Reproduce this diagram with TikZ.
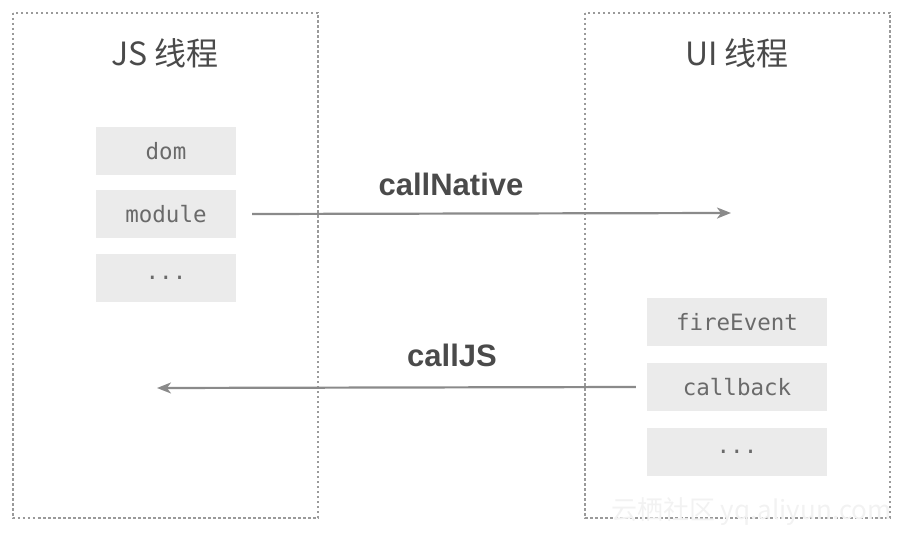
\documentclass[tikz,border=0pt]{standalone}
\usepackage{fontspec}
\setmainfont{Liberation Sans}
\newfontfamily\cjkfont{Noto Sans CJK SC}
\newfontfamily\monofont{DejaVu Sans Mono}
\usetikzlibrary{arrows.meta}
\definecolor{framegray}{HTML}{9A9A9A}
\definecolor{boxgray}{HTML}{EBEBEB}
\definecolor{textgray}{HTML}{6A6A6A}
\definecolor{arrowgray}{HTML}{8A8A8A}
\definecolor{titlegray}{HTML}{4A4A4A}
\begin{document}
\begin{tikzpicture}[x=1pt,y=-1pt,
  frame/.style={draw=framegray,line width=1.2pt,dash pattern=on 2.5pt off 2.5pt},
  itembox/.style={fill=boxgray,draw=none,minimum width=140pt,minimum height=48pt,inner sep=0pt,
    font=\monofont\fontsize{22.5}{26}\selectfont,text=textgray},
  ritembox/.style={itembox,minimum width=180pt},
  titletext/.style={font=\cjkfont\fontsize{32}{36}\selectfont,text=titlegray},
  calllabel/.style={font=\bfseries\fontsize{31}{36}\selectfont,text=titlegray},
  conn/.style={draw=arrowgray,line width=2.2pt,-{Stealth[length=14pt,width=11pt,inset=4pt]}}]
\useasboundingbox (0,0) rectangle (905,537);
% frames
\draw[frame] (13,13) rectangle (318,518);
\draw[frame] (585,13) rectangle (890,518);
% titles
\node[titletext] (jst) at (165,53) {JS 线程};
\node[titletext] (uit) at (737,53) {UI 线程};
% left boxes
\node[itembox] (dom) at (166,151) {dom};
\node[itembox] (module) at (166,214) {module};
\node[itembox] (ldots) at (166,278) {...};
% right boxes
\node[ritembox] (fire) at (737,322) {fireEvent};
\node[ritembox] (callback) at (737,387) {callback};
\node[ritembox] (rdots) at (737,452) {...};
% arrows
\coordinate (nend) at (731,213);
\coordinate (jend) at (157,388);
\draw[conn] (module.east) ++(16,0) coordinate (nstart) -- (nend);
\draw[conn] (callback.west) ++(-11,0) coordinate (jstart) -- (jend);
\node[calllabel] (cn) at (451,184) {callNative};
\node[calllabel] (cj) at (452,355) {callJS};
% watermark
\node[font=\cjkfont\fontsize{26}{30}\selectfont,text=black!5,anchor=east] (wm) at (895,512) {云栖社区 yq.aliyun.com};
\end{tikzpicture}
\end{document}
